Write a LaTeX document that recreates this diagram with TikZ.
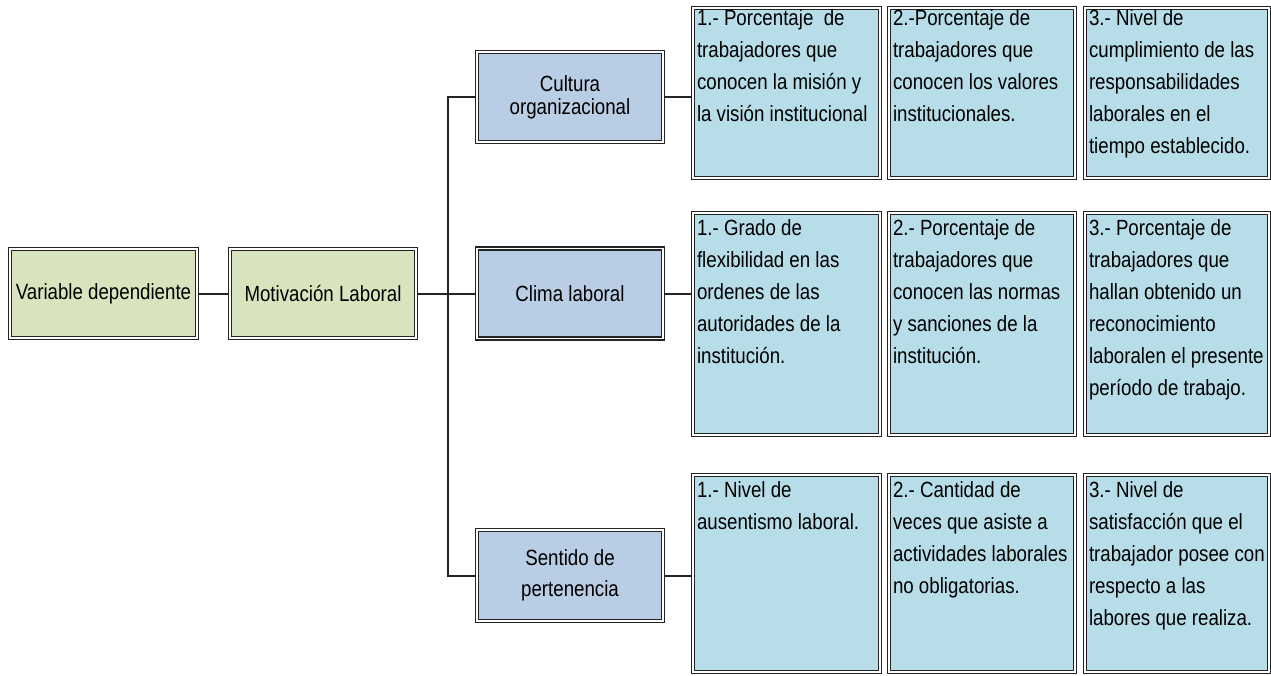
\documentclass[tikz,border=0pt]{standalone}
\usepackage{fontspec}
\setmainfont[FakeStretch=0.85]{Liberation Sans}
\definecolor{vargreen}{RGB}{215,228,189}
\definecolor{dimblue}{RGB}{185,205,229}
\definecolor{cellblue}{RGB}{183,221,232}
\definecolor{boxline}{RGB}{35,35,35}
\tikzstyle{box}=[draw=boxline,line width=1.6pt,double=white,double distance=1.5pt,inner sep=0pt]
\tikzstyle{varbox}=[box,fill=vargreen,minimum width=187pt,minimum height=89pt]
\tikzstyle{dimbox}=[box,fill=dimblue,minimum width=186pt,minimum height=90pt,align=center]
\tikzstyle{cellbox}=[box,fill=cellblue,inner xsep=4pt,inner ysep=2pt]
\tikzstyle{edge}=[draw=boxline,line width=2pt]
\newcommand{\rowfont}{\fontsize{22}{32}\selectfont}

\begin{document}
\begin{tikzpicture}[x=1pt, y=-1pt, font=\rowfont]
    \useasboundingbox (0,0) rectangle (1271,675);
    % First the variable and its dimensions
    \node[varbox] (var) at (103.5,293.5) {Variable dependiente};
    \node[varbox, minimum width=186pt] (mot) at (323,293.5) {Motivación Laboral};
    \node[dimbox, font=\fontsize{22}{23}\selectfont] (cult) at (570,97) {Cultura\\organizacional};
    \node[dimbox] (clima) at (570,293.5) {Clima laboral};
    \node[dimbox, font=\fontsize{22}{31}\selectfont, minimum height=91pt] (sent) at (570,575.5) {Sentido de\\pertenencia};
    % Then the indicators, one row per dimension
    \foreach \name/\xc/\w/\txt in {c11/786.5/187/{1.- Porcentaje~ de\\trabajadores que\\conocen la misión y\\la visión institucional},
        c12/982/186/{2.-Porcentaje de\\trabajadores que\\conocen los valores\\institucionales.},
        c13/1177/184/{3.- Nivel de\\cumplimiento de las\\responsabilidades\\laborales en el\\tiempo establecido.}}
        \node[cellbox, minimum width=\w pt, minimum height=170pt] (\name) at (\xc,93)
            {\parbox[c][166pt][t]{\dimexpr\w pt-8pt\relax}{\raggedright\vspace*{0pt}\txt}};
    \foreach \name/\xc/\w/\txt in {c21/786.5/187/{1.- Grado de\\flexibilidad en las\\ordenes de las\\autoridades de la\\institución.},
        c22/982/186/{2.- Porcentaje de\\trabajadores que\\conocen las normas\\y sanciones de la\\institución.},
        c23/1177/184/{3.- Porcentaje de\\trabajadores que\\hallan obtenido un\\reconocimiento\\laboralen el presente\\período de trabajo.}}
        \node[cellbox, minimum width=\w pt, minimum height=222pt] (\name) at (\xc,324)
            {\parbox[c][218pt][t]{\dimexpr\w pt-8pt\relax}{\raggedright\vspace*{5pt}\txt}};
    \foreach \name/\xc/\w/\txt in {c31/786.5/187/{1.- Nivel de\\ausentismo laboral.},
        c32/982/186/{2.- Cantidad de\\veces que asiste a\\actividades laborales\\no obligatorias.},
        c33/1177/184/{3.- Nivel de\\satisfacción que el\\trabajador posee con\\respecto a las\\labores que realiza.}}
        \node[cellbox, minimum width=\w pt, minimum height=197pt] (\name) at (\xc,573.5)
            {\parbox[c][193pt][t]{\dimexpr\w pt-8pt\relax}{\raggedright\vspace*{5pt}\txt}};
    % Connect everything
    \coordinate (trunk) at (448,0);
    \path[edge] (var.east) -- (mot.west);
    \path[edge] (mot.east) -- (clima.west);
    \path[edge] (cult.west) -- (cult.west -| trunk) -- (sent.west -| trunk) -- (sent.west);
    \foreach \source/\dest in {cult/c11, clima/c21, sent/c31}
        \path[edge] (\source.east) -- (\source.east -| \dest.west);
\end{tikzpicture}
\end{document}
